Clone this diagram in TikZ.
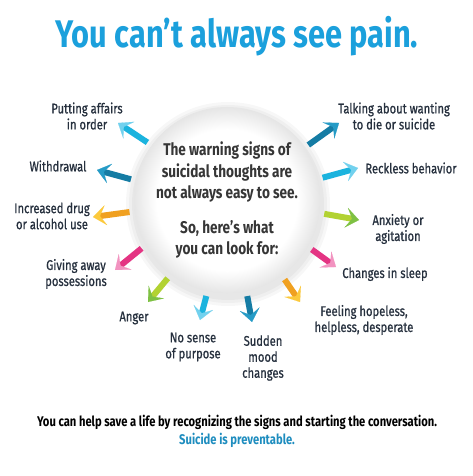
\documentclass[tikz,border=0pt]{standalone}
\usepackage{fontspec}
\setmainfont{Fira Sans}[FakeStretch=0.8]
\newfontfamily\lblfont{Fira Sans}[FakeStretch=0.8, FakeBold=0.8]
\usetikzlibrary{positioning}
\usetikzlibrary{arrows.meta}

\definecolor{titleblue}{HTML}{1BA0DC}
\definecolor{preventblue}{HTML}{1E8DBF}
\definecolor{labelgray}{HTML}{26303E}
\definecolor{centergray}{HTML}{363636}
\definecolor{cyanA}{HTML}{1BB3DE}
\definecolor{cyanB}{HTML}{72D1EE}
\definecolor{tealA}{HTML}{157CA4}
\definecolor{tealB}{HTML}{259BC6}
\definecolor{orangeA}{HTML}{F0A020}
\definecolor{orangeB}{HTML}{FCC93C}
\definecolor{pinkA}{HTML}{E43483}
\definecolor{pinkB}{HTML}{F293C0}
\definecolor{greenA}{HTML}{B2D232}
\definecolor{greenB}{HTML}{7EC143}

\pgfdeclareradialshading{discshade}{\pgfpoint{0bp}{0bp}}{color(0bp)=(white); color(19bp)=(white); color(25bp)=(black!10); color(50bp)=(black!10)}

\begin{document}
\begin{tikzpicture}[x=1pt, y=-1pt,
    lbl/.style={align=center, text=labelgray, inner sep=0pt, font=\lblfont\fontsize{14}{16}\selectfont},
    sig/.style 2 args={draw=#1, line width=6pt, shorten <=5pt,
        -{Stealth[length=13pt, width=20pt, inset=6pt, line width=0.1pt, color=#2, fill=#2]}},
    disc/.style={circle, minimum size=186pt, inner sep=0pt, shade, shading=discshade,
        align=center, text=centergray, font=\fontsize{17}{21.5}\selectfont\bfseries}]
    \useasboundingbox (0,0) rectangle (473,476);
    \fill[white] (0,0) rectangle (473,476);

    \node[anchor=base, text=titleblue, font=\fontsize{38.5}{40}\selectfont\bfseries] (title) at (237,48) {You can’t always see pain.};

    % soft shadow round the disc
    \foreach \r in {96,99,102}
        \fill[black, opacity=0.03] (228,204) circle (\r pt);
    \node[disc] (c) at (227,200) {The warning signs of\\suicidal thoughts are\\not always easy to see.\\[13pt]So, here’s what\\you can look for:};

    \node[lbl] (affairs) at (87,116) {Putting affairs\\in order};
    \node[lbl] (withdraw) at (58,166) {Withdrawal};
    \node[lbl] (drugs) at (52,216) {Increased drug\\or alcohol use};
    \node[lbl] (giving) at (76,274) {Giving away\\possessions};
    \node[lbl] (anger) at (134,318) {Anger};
    \node[lbl] (purpose) at (193,347) {No sense\\of purpose};
    \node[lbl] (mood) at (263,358) {Sudden\\mood\\changes};
    \node[lbl] (hopeless) at (364,320) {Feeling hopeless,\\helpless, desperate};
    \node[lbl] (sleep) at (385,274) {Changes in sleep};
    \node[lbl] (anxiety) at (398,229) {Anxiety or\\agitation};
    \node[lbl] (reckless) at (411,168) {Reckless behavior};
    \node[lbl] (talking) at (394,116) {Talking about wanting\\to die or suicide};

    \coordinate (hAffairs) at (118,123);
    \coordinate (hWithdraw) at (97,170);
    \coordinate (hDrugs) at (93,217);
    \coordinate (hGiving) at (115,270);
    \coordinate (hAnger) at (148,302);
    \coordinate (hPurpose) at (200,320);
    \coordinate (hMood) at (252,322);
    \coordinate (hHopeless) at (300,302);
    \coordinate (hSleep) at (336,267);
    \coordinate (hAnxiety) at (359,220);
    \coordinate (hReckless) at (358,168);
    \coordinate (hTalking) at (339,123);

    \draw[sig={cyanA}{cyanB}] (c.144.5) -- (hAffairs);
    \draw[sig={tealA}{tealB}] (c.168) -- (hWithdraw);
    \draw[sig={orangeA}{orangeB}] (c.187) -- (hDrugs);
    \draw[sig={pinkA}{pinkB}] (c.209.5) -- (hGiving);
    \draw[sig={greenA}{greenB}] (c.233) -- (hAnger);
    \draw[sig={cyanA}{cyanB}] (c.258) -- (hPurpose);
    \draw[sig={tealA}{tealB}] (c.282.5) -- (hMood);
    \draw[sig={orangeA}{orangeB}] (c.306) -- (hHopeless);
    \draw[sig={pinkA}{pinkB}] (c.330) -- (hSleep);
    \draw[sig={greenA}{greenB}] (c.352.7) -- (hAnxiety);
    \draw[sig={cyanA}{cyanB}] (c.13) -- (hReckless);
    \draw[sig={tealA}{tealB}] (c.34) -- (hTalking);

    \node[anchor=base, font=\fontsize{14}{18}\selectfont\bfseries] (help) at (237,426) {You can help save a life by recognizing the signs and starting the conversation.};
    \node[anchor=base, text=preventblue, font=\fontsize{14}{18}\selectfont\bfseries] (prevent) at (237,444) {Suicide is preventable.};
\end{tikzpicture}
\end{document}
